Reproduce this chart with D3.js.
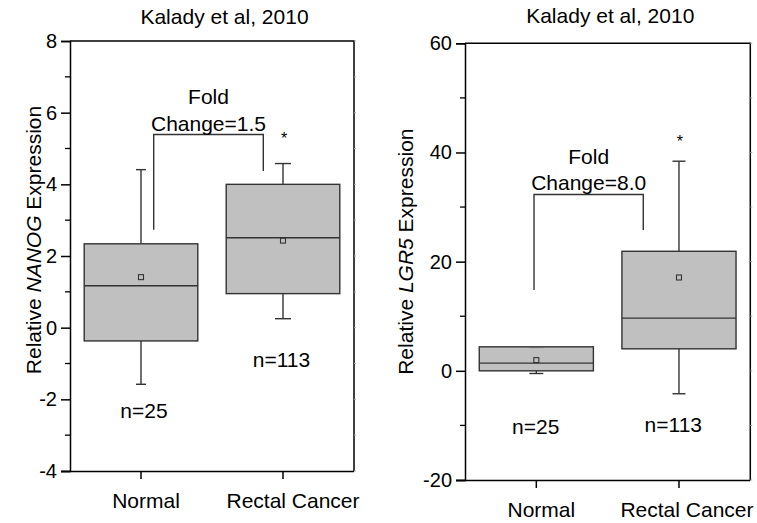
<!DOCTYPE html>
<html>
<head>
<meta charset="utf-8">
<script src="https://cdn.jsdelivr.net/npm/d3@7"></script>
<style>
  html, body { margin: 0; padding: 0; background: #fff; }
  svg { display: block; font-family: "Liberation Sans", Arial, Helvetica, sans-serif; }
</style>
</head>
<body>
<svg id="chart" width="757" height="523"></svg>
<script>
// Groups shared by both panels
const categories = ["Normal", "Rectal Cancer"];
const sampleSizes = ["n=25", "n=113"];
const studyTitle = "Kalady et al, 2010";

// NANOG box statistics per group
const nanogLow    = [-1.58, 0.25];
const nanogQ1     = [-0.37, 0.95];
const nanogMedian = [1.17, 2.51];
const nanogQ3     = [2.34, 4.00];
const nanogHigh   = [4.41, 4.58];
const nanogMean   = [1.41, 2.43];
const nanogTicks  = [-4, -2, 0, 2, 4, 6, 8];
const nanogFold   = "Change=1.5";

// LGR5 box statistics per group
const lgr5Low    = [-0.49, -4.2];
const lgr5Q1     = [0.0, 4.03];
const lgr5Median = [1.41, 9.66];
const lgr5Q3     = [4.4, 21.9];
const lgr5High   = [4.3, 38.4];
const lgr5Mean   = [1.96, 17.1];
const lgr5Ticks  = [-20, 0, 20, 40, 60];
const lgr5Fold   = "Change=8.0";

const svg = d3.select("#chart");
const BOX_FILL = "#c0c0c0";
const BOX_STROKE = "#333";
const AXIS = "#000";

function drawPanel(p) {
  const g = svg.append("g");
  const x = d3.scaleBand().domain(categories).range([p.x0, p.x1])
    .paddingInner(0.2).paddingOuter(0.1);
  const y = d3.scaleLinear().domain(p.domain).range([p.y1, p.y0]);
  const cx = c => x(c) + x.bandwidth() / 2;

  // frame: top and right edges
  g.append("path")
    .attr("d", `M${p.x0},${p.y0}H${p.x1}V${p.y1}`)
    .attr("fill", "none").attr("stroke", AXIS).attr("stroke-width", 1.5);

  // faint ticks on the right edge
  g.selectAll(".rtick").data(d3.range(p.domain[0], p.domain[1] + 1e-9, p.minorStep))
    .join("line")
    .attr("x1", p.x1).attr("x2", p.x1 + 2)
    .attr("y1", d => y(d)).attr("y2", d => y(d))
    .attr("stroke", "#aaa").attr("stroke-width", 1);

  // left axis with major and minor ticks
  const yAxis = d3.axisLeft(y).tickValues(p.ticks).tickSize(9).tickPadding(4)
    .tickFormat(d3.format("d"));
  const ya = g.append("g").attr("transform", `translate(${p.x0},0)`).call(yAxis);
  ya.select(".domain").attr("stroke", AXIS).attr("stroke-width", 1.5);
  ya.selectAll(".tick line").attr("stroke", AXIS).attr("stroke-width", 1.5);
  ya.selectAll(".tick text").attr("font-size", 20).attr("fill", "#000")
    .attr("font-family", "Liberation Sans, Arial, sans-serif").text(d => d < 0 ? "-" + Math.abs(d) : d);
  const minors = d3.range(p.domain[0], p.domain[1] + 1e-9, p.minorStep)
    .filter(v => !p.ticks.includes(v));
  g.selectAll(".minor").data(minors).join("line")
    .attr("x1", p.x0 - 5).attr("x2", p.x0)
    .attr("y1", d => y(d)).attr("y2", d => y(d))
    .attr("stroke", AXIS).attr("stroke-width", 1.3);

  // bottom axis
  const xAxis = d3.axisBottom(x).tickSize(8).tickSizeOuter(0).tickPadding(14);
  const xa = g.append("g").attr("transform", `translate(0,${p.y1})`).call(xAxis);
  xa.select(".domain").attr("stroke", AXIS).attr("stroke-width", 1.5)
    .attr("d", `M${p.x0 - 9},0.5H${p.x1}`);
  xa.selectAll(".tick line").attr("stroke", AXIS).attr("stroke-width", 1.5);
  xa.selectAll(".tick text").attr("font-size", 21).attr("fill", "#000")
    .attr("font-family", "Liberation Sans, Arial, sans-serif")
    .attr("dx", (d, i) => p.labelShift[i]);

  // whiskers
  categories.forEach((c, i) => {
    const xc = cx(c);
    const hw = p.capWidth[i] / 2;
    const wg = g.append("g").attr("stroke", BOX_STROKE).attr("stroke-width", 1.4);
    wg.append("line").attr("x1", xc).attr("x2", xc)
      .attr("y1", y(p.q3[i])).attr("y2", y(p.high[i]));
    wg.append("line").attr("x1", xc - hw).attr("x2", xc + hw)
      .attr("y1", y(p.high[i])).attr("y2", y(p.high[i]));
    wg.append("line").attr("x1", xc).attr("x2", xc)
      .attr("y1", y(p.q1[i])).attr("y2", y(p.low[i]));
    wg.append("line").attr("x1", xc - hw).attr("x2", xc + hw)
      .attr("y1", y(p.low[i])).attr("y2", y(p.low[i]));
  });

  // boxes
  g.selectAll(".box").data(categories).join("rect")
    .attr("x", c => x(c)).attr("width", x.bandwidth())
    .attr("y", (c, i) => y(p.q3[i]))
    .attr("height", (c, i) => y(p.q1[i]) - y(p.q3[i]))
    .attr("fill", BOX_FILL).attr("stroke", BOX_STROKE).attr("stroke-width", 1.4);

  // redraw the upper cap when it sits on the box edge
  categories.forEach((c, i) => {
    if (p.high[i] <= p.q3[i]) {
      const hw = p.capWidth[i] / 2;
      g.append("line").attr("x1", cx(c) - hw).attr("x2", cx(c) + hw)
        .attr("y1", y(p.high[i])).attr("y2", y(p.high[i]))
        .attr("stroke", "#666").attr("stroke-width", 1.4);
    }
  });

  // medians
  g.selectAll(".median").data(categories).join("line")
    .attr("x1", c => x(c)).attr("x2", c => x(c) + x.bandwidth())
    .attr("y1", (c, i) => y(p.median[i])).attr("y2", (c, i) => y(p.median[i]))
    .attr("stroke", BOX_STROKE).attr("stroke-width", 1.4);

  // means
  g.selectAll(".mean").data(categories).join("rect")
    .attr("x", c => cx(c) - 2.5).attr("y", (c, i) => y(p.mean[i]) - 2.5)
    .attr("width", 5).attr("height", 5)
    .attr("fill", "none").attr("stroke", BOX_STROKE).attr("stroke-width", 1.1);

  // fold-change bracket
  const bx0 = cx(categories[0]) + p.bracket.dx0;
  const bx1 = cx(categories[1]) + p.bracket.dx1;
  g.append("path")
    .attr("d", `M${bx0},${y(p.bracket.leg0)}V${y(p.bracket.top)}H${bx1}V${y(p.bracket.leg1)}`)
    .attr("fill", "none").attr("stroke", BOX_STROKE).attr("stroke-width", 1.4);
  const mid = (bx0 + bx1) / 2 + p.bracket.textDx;
  g.append("text").attr("x", mid).attr("y", y(p.bracket.foldY))
    .attr("text-anchor", "middle").attr("font-size", 21).text("Fold");
  g.append("text").attr("x", mid).attr("y", y(p.bracket.changeY))
    .attr("text-anchor", "middle").attr("font-size", 21).text(p.fold);

  // significance star above the cancer group
  g.append("text").attr("x", cx(categories[1]) + 1).attr("y", y(p.starY) + 9)
    .attr("text-anchor", "middle").attr("font-size", 16).text("*");

  // sample sizes
  g.selectAll(".nlab").data(categories).join("text")
    .attr("x", (c, i) => cx(c) + p.nShift[i])
    .attr("y", (c, i) => y(p.nY[i]))
    .attr("text-anchor", "middle").attr("font-size", 21)
    .text((c, i) => sampleSizes[i]);

  // title
  g.append("text").attr("x", (p.x0 + p.x1) / 2 + p.titleDx).attr("y", p.titleY)
    .attr("text-anchor", "middle").attr("font-size", 21).text(studyTitle);

  // y axis label with italic gene name
  const yl = g.append("text")
    .attr("transform", `translate(${p.ylabX},${(p.y0 + p.y1) / 2 + p.ylabDy}) rotate(-90)`)
    .attr("text-anchor", "middle").attr("font-size", 21);
  yl.append("tspan").text("Relative ");
  yl.append("tspan").attr("font-style", "italic").text(p.gene);
  yl.append("tspan").text(" Expression");
}

drawPanel({
  x0: 70, x1: 354, y0: 41, y1: 471,
  domain: [-4, 8], ticks: nanogTicks, minorStep: 1,
  low: nanogLow, q1: nanogQ1, median: nanogMedian, q3: nanogQ3, high: nanogHigh, mean: nanogMean,
  capWidth: [10, 16],
  fold: nanogFold,
  bracket: { dx0: 12.7, dx1: -19.7, top: 5.39, leg0: 2.73, leg1: 4.37, foldY: 6.25, changeY: 5.5, textDx: 0 },
  starY: 5.38,
  nY: [-2.51, -1.09], nShift: [3, -1.5],
  labelShift: [5, 10],
  titleDx: 12.5, titleY: 24,
  ylabX: 40.7, ylabDy: -16, gene: "NANOG"
});

drawPanel({
  x0: 465, x1: 750.3, y0: 43.3, y1: 480,
  domain: [-20, 60], ticks: lgr5Ticks, minorStep: 10,
  low: lgr5Low, q1: lgr5Q1, median: lgr5Median, q3: lgr5Q3, high: lgr5High, mean: lgr5Mean,
  capWidth: [14, 13],
  fold: lgr5Fold,
  bracket: { dx0: -2.3, dx1: -35.7, top: 32.3, leg0: 14.8, leg1: 25.8, foldY: 37.8, changeY: 33.1, textDx: 0 },
  starY: 42.6,
  nY: [-11.65, -11.18], nShift: [-0.6, -5.7],
  labelShift: [5, 8],
  titleDx: 2.6, titleY: 23.3,
  ylabX: 412.7, ylabDy: -10, gene: "LGR5"
});
</script>
</body>
</html>
